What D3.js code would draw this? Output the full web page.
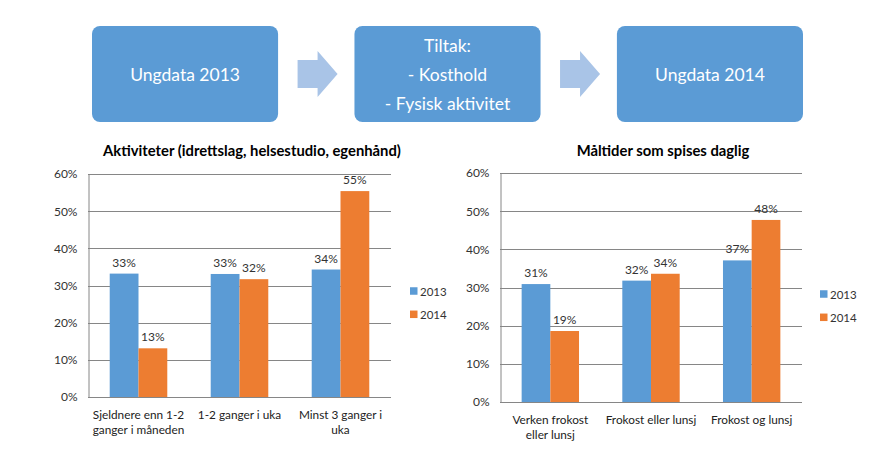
<!DOCTYPE html>
<html>
<head>
<meta charset="utf-8">
<script src="https://cdn.jsdelivr.net/npm/d3@7"></script>
<style>
  html, body { margin: 0; padding: 0; background: #ffffff; }
  svg { display: block; font-family: Lato, "Open Sans", sans-serif; }
</style>
</head>
<body>
<svg id="chart" width="892" height="452"></svg>
<script>
// ---- data ----
const flowSteps = [["Ungdata 2013"], ["Tiltak:", "- Kosthold", "- Fysisk aktivitet"], ["Ungdata 2014"]];
const seriesNames = ["2013", "2014"];
const seriesColors = ["#5b9bd5", "#ed7d31"];
const yTicks = [0, 0.1, 0.2, 0.3, 0.4, 0.5, 0.6];

const activityTitle = "Aktiviteter (idrettslag, helsestudio, egenhånd)";
const activityCategories = ["Sjeldnere enn 1-2\nganger i måneden", "1-2 ganger i uka", "Minst 3 ganger i\nuka"];
const activity2013 = [0.332, 0.331, 0.343];
const activity2014 = [0.131, 0.317, 0.554];

const mealTitle = "Måltider som spises daglig";
const mealCategories = ["Verken frokost\neller lunsj", "Frokost eller lunsj", "Frokost og lunsj"];
const meal2013 = [0.309, 0.318, 0.371];
const meal2014 = [0.186, 0.336, 0.477];

// ---- drawing ----
const svg = d3.select("#chart");
const pct = d3.format(".0%");

// flow diagram
const flowX = d3.scaleBand().domain(d3.range(flowSteps.length)).range([92, 803]).paddingInner(0.291);
const flow = svg.append("g");
flowSteps.forEach((lines, i) => {
  const x = flowX(i), w = flowX.bandwidth();
  flow.append("rect").attr("x", x).attr("y", 26).attr("width", w).attr("height", 96)
    .attr("rx", 8).attr("fill", "#5b9bd5");
  const lh = 29, cy = 74, n = lines.length;
  lines.forEach((t, j) => {
    flow.append("text").attr("x", x + w / 2).attr("y", cy + (j - (n - 1) / 2) * lh)
      .attr("text-anchor", "middle").attr("dominant-baseline", "central")
      .attr("fill", "#ffffff").attr("font-size", 17.5).text(t);
  });
  if (i < flowSteps.length - 1) {
    const ax0 = x + w + 19.5, ax1 = ax0 + 40, hx = ax0 + 20;
    const pts = [[ax0, 60], [hx, 60], [hx, 51], [ax1, 74], [hx, 97], [hx, 88], [ax0, 88]];
    flow.append("path").attr("d", d3.line()(pts) + "Z").attr("fill", "#a9c4e7");
  }
});

function barChart(opts) {
  const g = svg.append("g");
  const x = d3.scaleBand().domain(opts.categories).range([opts.x0, opts.x1]).paddingInner(0.43).paddingOuter(0.215);
  const xs = d3.scaleBand().domain(seriesNames).range([0, x.bandwidth()]);
  const y = d3.scaleLinear().domain([0, 0.6]).range([opts.y0, opts.y1]);

  // gridlines
  g.append("g").selectAll("line").data(yTicks).join("line")
    .attr("x1", opts.x0).attr("x2", opts.x1)
    .attr("y1", d => Math.round(y(d)) + 0.5).attr("y2", d => Math.round(y(d)) + 0.5)
    .attr("stroke", "#868686").attr("stroke-width", 1);
  // y axis
  const yAxis = d3.axisLeft(y).tickValues(yTicks).tickFormat(pct).tickSize(0).tickPadding(11);
  const ya = g.append("g").attr("transform", `translate(${Math.round(opts.x0) + 0.5},0)`).call(yAxis);
  ya.select(".domain").attr("stroke", "#868686");
  ya.selectAll("text").attr("font-size", 12).attr("fill", "#333333").attr("font-family", "Lato");

  // bars
  const seriesVals = [opts.s2013, opts.s2014];
  seriesNames.forEach((s, si) => {
    const vals = seriesVals[si];
    g.append("g").selectAll("rect").data(opts.categories).join("rect")
      .attr("x", (c) => x(c) + xs(s)).attr("width", xs.bandwidth())
      .attr("y", (c, i) => y(vals[i])).attr("height", (c, i) => y(0) - y(vals[i]))
      .attr("fill", seriesColors[si]);
    g.append("g").selectAll("text").data(opts.categories).join("text")
      .attr("x", (c) => x(c) + xs(s) + xs.bandwidth() / 2)
      .attr("y", (c, i) => y(vals[i]) - 7)
      .attr("text-anchor", "middle").attr("font-size", 12).attr("fill", "#333333")
      .text((c, i) => pct(vals[i]));
  });

  // category labels
  opts.categories.forEach(c => {
    const t = g.append("text").attr("x", x(c) + x.bandwidth() / 2).attr("y", opts.y0 + 22)
      .attr("text-anchor", "middle").attr("font-size", 11.8).attr("fill", "#222222");
    c.split("\n").forEach((line, k) => {
      t.append("tspan").attr("x", x(c) + x.bandwidth() / 2).attr("dy", k === 0 ? 0 : 15).text(line);
    });
  });

  // title
  g.append("text").attr("x", opts.titleX).attr("y", 150).attr("dominant-baseline", "central")
    .attr("text-anchor", "middle").attr("font-size", 14.8).attr("font-weight", "bold")
    .attr("fill", "#000000").text(opts.title);

  // legend
  seriesNames.forEach((s, si) => {
    const ly = opts.legendY + si * 23.3;
    g.append("rect").attr("x", opts.legendX).attr("y", ly - 3.75).attr("width", 7.5).attr("height", 7.5)
      .attr("fill", seriesColors[si]);
    g.append("text").attr("x", opts.legendX + 10).attr("y", ly).attr("dominant-baseline", "central")
      .attr("font-size", 11.5).attr("fill", "#333333").text(s);
  });
}

barChart({ categories: activityCategories, s2013: activity2013, s2014: activity2014,
  x0: 88, x1: 391, y0: 397, y1: 174, title: activityTitle, titleX: 252, legendX: 410, legendY: 291 });
barChart({ categories: mealCategories, s2013: meal2013, s2014: meal2014,
  x0: 500, x1: 802, y0: 402, y1: 173, title: mealTitle, titleX: 663, legendX: 820, legendY: 294 });
</script>
</body>
</html>
